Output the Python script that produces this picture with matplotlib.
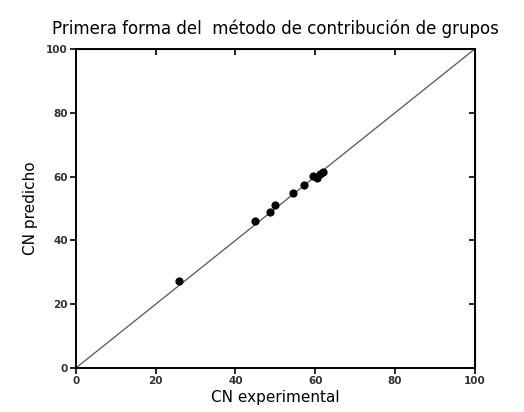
import matplotlib.pyplot as plt
import numpy as np

plt.rcParams['font.family'] = ['DejaVu Sans']

# datos
cn_experimental = [25.8, 44.8, 48.7, 49.9, 54.5, 57.1, 59.5, 60.4, 61.3, 62.0]
cn_predicho = [27.4, 46.0, 49.0, 51.0, 54.8, 57.4, 60.3, 59.6, 60.8, 61.3]
ticks = [0, 20, 40, 60, 80, 100]

fig = plt.figure(figsize=(5.24, 4.12), dpi=100)
ax = fig.add_axes([0.145, 0.107, 0.761, 0.774])

ax.plot([0, 100], [0, 100], color='#555555', lw=0.9)
ax.scatter(cn_experimental, cn_predicho, s=24, color='black', zorder=3)

ax.set_xlim(0, 100)
ax.set_ylim(0, 100)
ax.set_xticks(ticks)
ax.set_yticks(ticks)
for s in ax.spines.values():
    s.set_linewidth(1.4)
ax.tick_params(direction='out', length=4, width=1.2, pad=2)
for lab in ax.get_xticklabels() + ax.get_yticklabels():
    lab.set_fontsize(7.5)
    lab.set_fontweight('bold')
    lab.set_color('#333333')

# marcas interiores arriba y a la derecha
top = ax.secondary_xaxis('top')
top.set_xticks(ticks)
top.tick_params(direction='in', length=4, width=1.2, labeltop=False)
right = ax.secondary_yaxis('right')
right.set_yticks(ticks)
right.tick_params(direction='in', length=4, width=1.2, labelright=False)

ax.set_xlabel('CN experimental', fontsize=11, labelpad=3)
ax.set_ylabel('CN predicho', fontsize=11, labelpad=6)
ax.set_title('Primera forma del  método de contribución de grupos', fontsize=12, pad=11)

fig.savefig('out.png', dpi=100)
